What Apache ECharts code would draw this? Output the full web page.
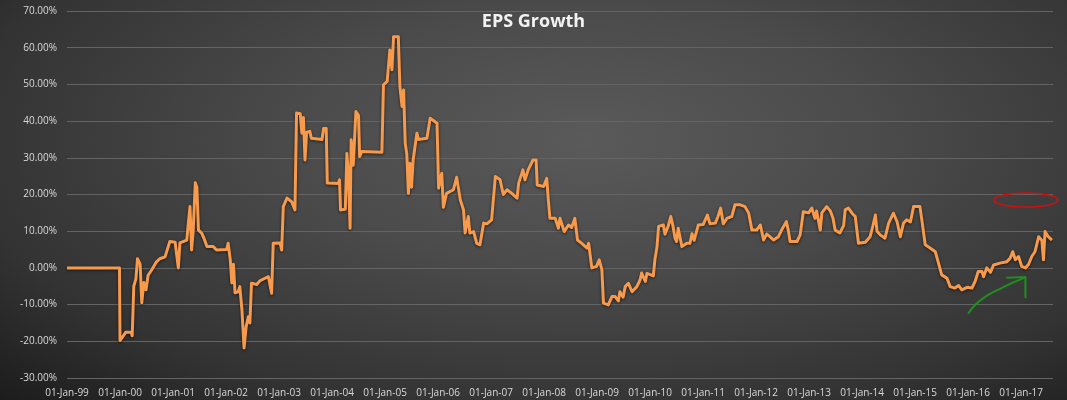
<!DOCTYPE html>
<html>
<head>
<meta charset="utf-8">
<script src="https://cdn.jsdelivr.net/npm/echarts@6/dist/echarts.min.js"></script>
<style>
  html, body { margin: 0; padding: 0; }
  #chart {
    width: 1067px; height: 400px;
    background: radial-gradient(ellipse farthest-corner at 55% 35%, #5a5a5a 0%, #4b4b4b 35%, #333 75%, #1c1c1c 100%);
  }
</style>
</head>
<body>
<div id="chart"></div>
<script>
// x positions are decimal years, values are EPS growth in percent
const xYears = [
  1999.00, 1999.99, 2000.00, 2000.04, 2000.11, 2000.21, 2000.23, 2000.26, 2000.30, 2000.33,
  2000.36, 2000.38, 2000.41, 2000.43, 2000.45, 2000.49, 2000.53, 2000.60, 2000.68, 2000.75,
  2000.85, 2000.94, 2001.04, 2001.10, 2001.13, 2001.26, 2001.29, 2001.32, 2001.35, 2001.38,
  2001.42, 2001.45, 2001.48, 2001.54, 2001.58, 2001.64, 2001.76, 2001.82, 2002.01, 2002.04,
  2002.08, 2002.11, 2002.14, 2002.17, 2002.23, 2002.26, 2002.30, 2002.34, 2002.38, 2002.42,
  2002.45, 2002.48, 2002.58, 2002.64, 2002.80, 2002.86, 2002.89, 2003.02, 2003.05, 2003.08,
  2003.15, 2003.24, 2003.30, 2003.33, 2003.40, 2003.43, 2003.46, 2003.49, 2003.52, 2003.58,
  2003.61, 2003.81, 2003.84, 2003.89, 2003.91, 2004.12, 2004.14, 2004.16, 2004.25, 2004.28,
  2004.31, 2004.34, 2004.36, 2004.40, 2004.45, 2004.50, 2004.52, 2004.56, 2004.94, 2004.97,
  2005.04, 2005.09, 2005.13, 2005.16, 2005.25, 2005.28, 2005.32, 2005.35, 2005.38, 2005.41,
  2005.44, 2005.47, 2005.50, 2005.53, 2005.60, 2005.63, 2005.79, 2005.85, 2005.98, 2006.01,
  2006.07, 2006.10, 2006.16, 2006.29, 2006.35, 2006.42, 2006.48, 2006.51, 2006.57, 2006.60,
  2006.67, 2006.73, 2006.79, 2006.86, 2006.92, 2007.01, 2007.08, 2007.17, 2007.23, 2007.30,
  2007.39, 2007.49, 2007.52, 2007.60, 2007.64, 2007.70, 2007.79, 2007.85, 2007.87, 2007.99,
  2008.05, 2008.08, 2008.11, 2008.21, 2008.27, 2008.30, 2008.38, 2008.46, 2008.52, 2008.58,
  2008.63, 2008.71, 2008.81, 2008.84, 2008.90, 2008.99, 2009.04, 2009.09, 2009.12, 2009.21,
  2009.28, 2009.34, 2009.40, 2009.43, 2009.49, 2009.53, 2009.59, 2009.66, 2009.75, 2009.81,
  2009.84, 2009.91, 2009.94, 2010.06, 2010.09, 2010.13, 2010.16, 2010.25, 2010.28, 2010.34,
  2010.39, 2010.43, 2010.47, 2010.50, 2010.53, 2010.60, 2010.69, 2010.75, 2010.79, 2010.83,
  2010.91, 2011.00, 2011.08, 2011.13, 2011.23, 2011.28, 2011.33, 2011.38, 2011.45, 2011.54,
  2011.60, 2011.70, 2011.79, 2011.86, 2011.92, 2012.01, 2012.08, 2012.14, 2012.20, 2012.26,
  2012.33, 2012.42, 2012.48, 2012.57, 2012.61, 2012.64, 2012.77, 2012.83, 2012.89, 2012.99,
  2013.05, 2013.11, 2013.14, 2013.21, 2013.24, 2013.33, 2013.40, 2013.45, 2013.49, 2013.58,
  2013.65, 2013.68, 2013.74, 2013.81, 2013.87, 2013.93, 2013.96, 2014.06, 2014.15, 2014.20,
  2014.25, 2014.28, 2014.34, 2014.43, 2014.50, 2014.59, 2014.66, 2014.72, 2014.78, 2014.84,
  2014.91, 2014.97, 2015.09, 2015.13, 2015.19, 2015.28, 2015.38, 2015.44, 2015.50, 2015.60,
  2015.66, 2015.75, 2015.82, 2015.88, 2015.98, 2016.07, 2016.13, 2016.19, 2016.26, 2016.29,
  2016.35, 2016.42, 2016.48, 2016.60, 2016.73, 2016.79, 2016.84, 2016.89, 2016.95, 2017.01,
  2017.08, 2017.14, 2017.20, 2017.26, 2017.33, 2017.39, 2017.42, 2017.45, 2017.51, 2017.58
];
const epsGrowth = [
  0, 0, -19.8, -19, -17.5, -17.5, -18.5, -5, -3, 2.5,
  2.8, 1, -9.5, -9, -4, -6, -2, -0.5, 1.5, 2.5,
  3, 7.2, 7, 0, 6.8, 7.6, 12.3, 16.7, 4.9, 10,
  23.2, 22, 10.3, 9.5, 8.2, 5.8, 5.8, 4.9, 5, 6.7,
  2.2, -4.1, 1, -6.8, -6.5, -5.1, -11.4, -21.8, -16, -13.3,
  -15, -4.2, -4.5, -3.5, -2.4, -6.9, 6.7, 6.8, 4.9, 16.7,
  19, 18, 15.8, 42.2, 42, 36.7, 41, 29.4, 37, 37.2,
  35.3, 35, 38, 38, 23.1, 23, 24, 15.8, 16, 31.2,
  25, 10.8, 34.9, 28, 42.6, 41.5, 30.3, 31.7, 31.5, 49.9,
  50.8, 59.4, 54, 63, 63, 49.4, 44, 48.5, 34, 31,
  20.3, 28.5, 22, 29.4, 36.7, 35, 35.3, 40.8, 39.4, 21.7,
  25.8, 16.5, 20.3, 21.3, 24.7, 18.5, 15.8, 9.5, 14, 9.5,
  9.9, 6.7, 6.3, 12.2, 12, 13.1, 24.9, 24, 20, 21.3,
  20.3, 19, 23.1, 26.7, 24, 26.7, 29.4, 29.4, 22.6, 22.2,
  24.4, 18.5, 13.5, 13.5, 10.8, 13.5, 9.9, 11.7, 11, 13.5,
  7.6, 6.7, 5.4, 6.7, 0, 0.4, 2.2, -0.5, -9.6, -10.1,
  -7.8, -7.8, -9, -6.5, -8, -5.1, -4.2, -6.5, -5.1, -3.3,
  -1.4, -3.7, -1.5, -2.2, 2.2, 5.8, 11.3, 11.7, 9.2, 11.3,
  14, 11.5, 8.1, 7.2, 10.8, 5.8, 6.7, 6.7, 9.3, 7.5,
  11.7, 11.8, 14.4, 12, 12.2, 14, 16.3, 12, 13.5, 14,
  17.2, 17.2, 16.7, 14.9, 10.3, 10.3, 11.7, 7.6, 9.2, 8.5,
  7.6, 8.5, 10.3, 12.6, 10, 7.2, 7.2, 9, 15.3, 15,
  16.3, 13.5, 15.5, 10.3, 15, 16.7, 15.5, 13.5, 10.3, 9.5,
  11.5, 15.8, 16.3, 14.9, 14, 6.7, 7.2, 7, 8.5, 11.3,
  14.4, 10, 9, 8.1, 12.2, 14.9, 12.5, 8.5, 12.2, 13.1,
  12.5, 16.7, 16.7, 12.6, 6.3, 5.4, 4.4, 1.3, -1.9, -2.8,
  -5.1, -5.5, -4.8, -6, -5.3, -5.5, -3.7, -1, -1, -2.4,
  0, -1.2, 0.8, 1.3, 1.7, 2.6, 4.4, 2.2, 3.1, 0.4,
  0, 1, 3.1, 4.4, 8.5, 7.5, 2.2, 9.9, 8.5, 7.6
];

// hand-drawn annotations, in data coordinates
const greenStroke = [[2016.00, -12.5], [2016.13, -10.1], [2016.32, -7.9], [2016.60, -5.7], [2016.83, -4.1], [2017.06, -2.7]];
const greenTip = [[2016.72, -2.7], [2017.08, -2.5], [2017.08, -8.2]];
const redCenter = [2017.09, 18.5];

const yMin = -30, yMax = 70, yStep = 10;
const xMin = 1999, xMax = 2017.6;

const chart = echarts.init(document.getElementById('chart'));

const axisFont = { color: '#d9d9d9', fontSize: 10, fontFamily: 'Open Sans' };

chart.setOption({
  backgroundColor: 'transparent',
  animation: false,
  title: {
    text: 'EPS Growth',
    left: 'center',
    top: 8,
    textStyle: { color: '#f2f2f2', fontSize: 18, fontWeight: 'bold', fontFamily: 'Open Sans' }
  },
  grid: { left: 67, right: 14, top: 11, bottom: 22 },
  xAxis: {
    type: 'value',
    min: xMin,
    max: xMax,
    interval: 1,
    splitLine: { show: false },
    axisLine: { show: false },
    axisTick: { show: false },
    axisLabel: Object.assign({
      margin: 10,
      showMaxLabel: false,
      formatter: v => Number.isInteger(v) ? '01-Jan-' + String(v % 100).padStart(2, '0') : ''
    }, axisFont)
  },
  yAxis: {
    type: 'value',
    min: yMin,
    max: yMax,
    interval: yStep,
    axisLine: { show: false },
    axisTick: { show: false },
    splitLine: { lineStyle: { color: '#646464', width: 1 } },
    axisLabel: Object.assign({
      margin: 10,
      formatter: v => v.toFixed(2) + '%'
    }, axisFont)
  },
  series: [
    {
      type: 'line',
      data: xYears.map((x, i) => [x, epsGrowth[i]]),
      symbol: 'none',
      lineStyle: {
        color: '#f79a4c',
        width: 3,
        join: 'round',
        shadowColor: 'rgba(0,0,0,0.6)',
        shadowBlur: 3,
        shadowOffsetY: 1
      },
      z: 3
    },
    {
      type: 'line',
      data: greenStroke,
      symbol: 'none',
      smooth: true,
      silent: true,
      lineStyle: { color: '#1f8f1f', width: 2 },
      z: 4
    },
    {
      type: 'line',
      data: greenTip,
      symbol: 'none',
      silent: true,
      lineStyle: { color: '#1f8f1f', width: 2 },
      z: 4
    }
  ]
});

const c = chart.convertToPixel({ gridIndex: 0 }, redCenter);
chart.setOption({
  graphic: [{
    type: 'ellipse',
    shape: { cx: c[0], cy: c[1], rx: 32, ry: 7 },
    style: { fill: 'none', stroke: '#d01010', lineWidth: 1.5 },
    silent: true,
    z: 10
  }]
});
</script>
</body>
</html>
